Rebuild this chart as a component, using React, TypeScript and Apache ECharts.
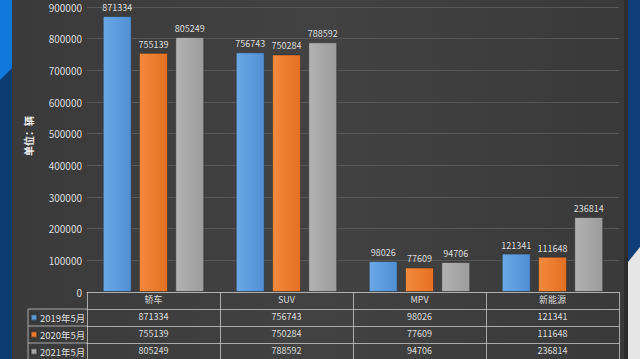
import React, { useEffect, useRef } from "react";
import * as echarts from "echarts";

const categories = ["轿车", "SUV", "MPV", "新能源"];
const seriesNames = ["2019年5月", "2020年5月", "2021年5月"];
const values2019 = [871334, 756743, 98026, 121341];
const values2020 = [755139, 750284, 77609, 111648];
const values2021 = [805249, 788592, 94706, 236814];
const seriesColors = [
  ["#6aa8e6", "#4f8fd3"],
  ["#f48a3c", "#e46f22"],
  ["#b2b2b2", "#9c9c9c"],
];
const legendColors = ["#5b9bd5", "#ed7d31", "#a5a5a5"];

const FONT = "'Noto Sans CJK SC', 'Noto Sans', sans-serif";
const TEXT = "#dedede";
const TABLE_LINE = "rgba(205,205,205,0.75)";
const ROW = 17;

export default function App() {
  const ref = useRef<HTMLDivElement>(null);
  useEffect(() => {
    if (!ref.current) return;
    const chart = echarts.init(ref.current, undefined, { renderer: "svg" });
    const allValues = [values2019, values2020, values2021];

    const baseX = (k: number) => ({
      type: "category",
      data: categories,
      position: "bottom",
      offset: ROW * k,
      axisLine: { show: true, lineStyle: { color: TABLE_LINE, width: 1 } },
      axisTick: { show: true, length: ROW, inside: false, lineStyle: { color: TABLE_LINE, width: 1 } },
      axisLabel: {
        color: TEXT,
        fontSize: 9,
        fontFamily: FONT,
        margin: 3,
        interval: 0,
        formatter: k === 0 ? undefined : (v: string, i: number) => String(allValues[k - 1][i]),
      },
      splitLine: { show: false },
    });

    chart.setOption({
      animation: false,
      backgroundColor: "#3e3e3e",
      textStyle: { fontFamily: FONT },
      graphic: [
        {
          type: "rect",
          z: -10,
          shape: { x: 12, y: 0, width: 614, height: 359 },
          style: {
            fill: new echarts.graphic.LinearGradient(0, 0, 1, 0, [
              { offset: 0, color: "#3a3a3a" },
              { offset: 0.5, color: "#424242" },
              { offset: 1, color: "#393939" },
            ]),
          },
          silent: true,
        },
        { type: "rect", shape: { x: 0, y: 0, width: 12, height: 359 }, style: { fill: "#0c3b6f" }, silent: true },
        { type: "polygon", shape: { points: [[0, 0], [12, 0], [12, 68], [0, 80]] }, style: { fill: "#1279dc" }, silent: true },
        { type: "rect", shape: { x: 624, y: 0, width: 4, height: 359 }, style: { fill: "#2c2c2c" }, silent: true },
        { type: "rect", shape: { x: 628, y: 0, width: 12, height: 359 }, style: { fill: "#0e3d78" }, silent: true },
        { type: "polygon", shape: { points: [[628, 262], [640, 247], [640, 359], [628, 359]] }, style: { fill: "#e6e6e6" }, silent: true },
        {
          type: "text",
          x: 28,
          y: 136,
          rotation: Math.PI / 2,
          style: { text: "单位：辆", fill: "#f0f0f0", fontSize: 10, fontWeight: "bold", fontFamily: FONT, align: "center", verticalAlign: "middle" },
          silent: true,
        },
        {
          type: "polyline",
          shape: { points: [[87, 309], [28, 309], [28, 360]] },
          style: { stroke: TABLE_LINE, lineWidth: 1, fill: "none" },
          silent: true,
        },
        { type: "line", shape: { x1: 28, y1: 326, x2: 87, y2: 326 }, style: { stroke: TABLE_LINE, lineWidth: 1 }, silent: true },
        { type: "line", shape: { x1: 28, y1: 343, x2: 87, y2: 343 }, style: { stroke: TABLE_LINE, lineWidth: 1 }, silent: true },
      ],
      legend: {
        orient: "vertical",
        left: 30,
        top: 309,
        height: 80,
        padding: 0,
        itemGap: 0,
        itemWidth: 6,
        itemHeight: 6,
        icon: "rect",
        data: seriesNames.map((n, i) => ({ name: n, itemStyle: { color: legendColors[i] } })),
        textStyle: { color: TEXT, fontSize: 9.5, fontFamily: FONT, lineHeight: ROW, padding: [0, 0, 0, -2] },
      },
      grid: { left: 87, right: 21, top: 7, bottom: 67, containLabel: false },
      xAxis: [0, 1, 2, 3].map(baseX),
      yAxis: {
        type: "value",
        min: 0,
        max: 900000,
        interval: 100000,
        axisLine: { show: false },
        axisTick: { show: false },
        axisLabel: { color: TEXT, fontSize: 10, fontFamily: FONT, margin: 5, formatter: (v: number) => String(v) },
        splitLine: { lineStyle: { color: "#575757", width: 1 } },
      },
      series: allValues.map((vals, i) => ({
        name: seriesNames[i],
        type: "bar",
        xAxisIndex: 0,
        data: vals,
        barWidth: 29,
        barGap: "25%",
        itemStyle: {
          color: new echarts.graphic.LinearGradient(0, 0, 1, 0, [
            { offset: 0, color: seriesColors[i][0] },
            { offset: 1, color: seriesColors[i][1] },
          ]),
          borderColor: "rgba(40,40,40,0.5)",
          borderWidth: 1,
        },
        label: { show: true, position: "top", distance: 4, color: TEXT, fontSize: 9, fontFamily: FONT },
      })),
    });
    return () => chart.dispose();
  }, []);
  return <div ref={ref} style={{ position: "fixed", left: 0, top: 0, width: 640, height: 359 }} />;
}
